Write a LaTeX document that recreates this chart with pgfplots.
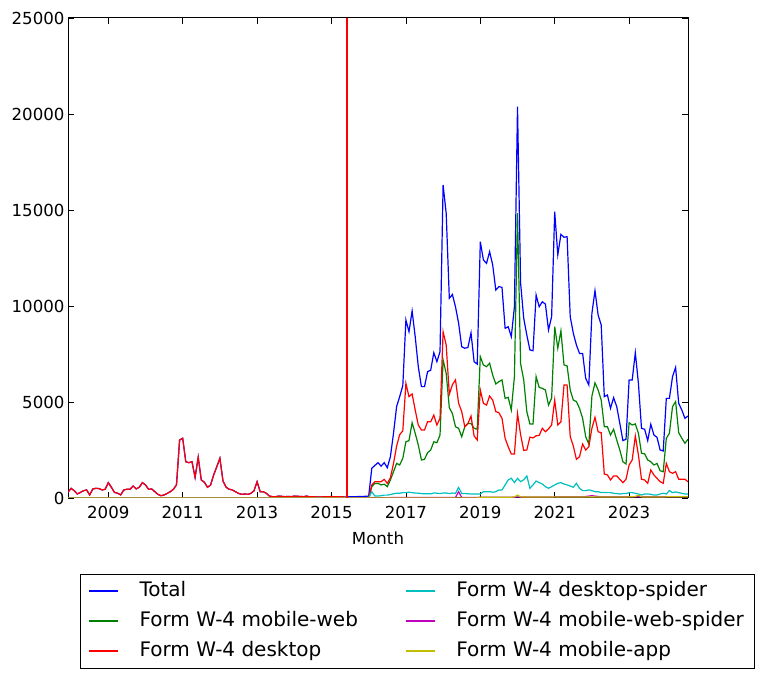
\documentclass[border=0pt]{standalone}
\usepackage{fontspec}
\setmainfont{DejaVu Sans}
\usepackage{pgfplots}
\usepackage{pgfplotstable}
\pgfplotsset{compat=1.18}
\definecolor{mb}{rgb}{0,0,1}
\definecolor{mg}{rgb}{0,0.5,0}
\definecolor{mr}{rgb}{1,0,0}
\definecolor{mc}{rgb}{0,0.75,0.75}
\definecolor{mm}{rgb}{0.75,0,0.75}
\definecolor{my}{rgb}{0.75,0.75,0}
\pgfplotstableread{
x T MW D DS MWS MA
2007.917 300 0 300 0 0 0
2008.000 505 0 505 0 0 0
2008.083 380 0 380 0 0 0
2008.167 210 0 210 0 0 0
2008.250 290 0 290 0 0 0
2008.333 380 0 380 0 0 0
2008.417 420 0 420 0 0 0
2008.500 160 0 160 0 0 0
2008.583 470 0 470 0 0 0
2008.667 505 0 505 0 0 0
2008.750 490 0 490 0 0 0
2008.833 420 0 420 0 0 0
2008.917 455 0 455 0 0 0
2009.000 800 0 800 0 0 0
2009.083 560 0 560 0 0 0
2009.167 290 0 290 0 0 0
2009.250 250 0 250 0 0 0
2009.333 160 0 160 0 0 0
2009.417 420 0 420 0 0 0
2009.500 455 0 455 0 0 0
2009.583 455 0 455 0 0 0
2009.667 625 0 625 0 0 0
2009.750 470 0 470 0 0 0
2009.833 560 0 560 0 0 0
2009.917 800 0 800 0 0 0
2010.000 680 0 680 0 0 0
2010.083 455 0 455 0 0 0
2010.167 470 0 470 0 0 0
2010.250 330 0 330 0 0 0
2010.333 190 0 190 0 0 0
2010.417 120 0 120 0 0 0
2010.500 160 0 160 0 0 0
2010.583 240 0 240 0 0 0
2010.667 330 0 330 0 0 0
2010.750 455 0 455 0 0 0
2010.833 680 0 680 0 0 0
2010.917 3020 0 3020 0 0 0
2011.000 3110 0 3110 0 0 0
2011.083 1890 0 1890 0 0 0
2011.167 1840 0 1840 0 0 0
2011.250 1890 0 1890 0 0 0
2011.333 1075 0 1075 0 0 0
2011.417 2120 0 2120 0 0 0
2011.500 940 0 940 0 0 0
2011.583 820 0 820 0 0 0
2011.667 560 0 560 0 0 0
2011.750 680 0 680 0 0 0
2011.833 1200 0 1200 0 0 0
2011.917 1630 0 1630 0 0 0
2012.000 2070 0 2070 0 0 0
2012.083 890 0 890 0 0 0
2012.167 560 0 560 0 0 0
2012.250 455 0 455 0 0 0
2012.333 420 0 420 0 0 0
2012.417 330 0 330 0 0 0
2012.500 240 0 240 0 0 0
2012.583 190 0 190 0 0 0
2012.667 210 0 210 0 0 0
2012.750 190 0 190 0 0 0
2012.833 240 0 240 0 0 0
2012.917 380 0 380 0 0 0
2013.000 850 0 850 0 0 0
2013.083 330 0 330 0 0 0
2013.167 330 0 330 0 0 0
2013.250 240 0 240 0 0 0
2013.333 100 0 100 0 0 0
2013.417 70 0 70 0 0 0
2013.500 70 0 70 0 0 0
2013.583 100 0 100 0 0 0
2013.667 85 0 85 0 0 0
2013.750 70 0 70 0 0 0
2013.833 80 0 80 0 0 0
2013.917 70 0 70 0 0 0
2014.000 100 0 100 0 0 0
2014.083 90 0 90 0 0 0
2014.167 80 0 80 0 0 0
2014.250 70 0 70 0 0 0
2014.333 100 0 100 0 0 0
2014.417 60 0 60 0 0 0
2014.500 70 0 70 0 0 0
2014.583 60 0 60 0 0 0
2014.667 50 0 50 0 0 0
2014.750 60 0 60 0 0 0
2014.833 70 0 70 0 0 0
2014.917 60 0 60 0 0 0
2015.000 80 0 80 0 0 0
2015.083 60 0 60 0 0 0
2015.167 60 0 60 0 0 0
2015.250 70 0 70 0 0 0
2015.333 50 0 50 0 0 0
2015.417 60 0 30 0 0 0
2015.500 60 0 0 0 0 0
2015.583 70 0 0 0 0 0
2015.667 70 0 0 0 0 0
2015.750 80 0 0 0 0 0
2015.833 80 0 0 0 0 0
2015.917 90 0 0 0 0 0
2016.000 100 0 0 0 0 0
2016.083 1547 590 680 330 0 0
2016.167 1700 760 850 100 0 0
2016.250 1840 760 850 100 20 0
2016.333 1660 680 850 120 0 0
2016.417 1840 720 970 150 0 0
2016.500 1580 590 760 150 20 0
2016.583 2150 940 1050 180 20 0
2016.667 3370 1370 1800 220 30 0
2016.750 4760 1800 2700 250 30 0
2016.833 5280 1720 3300 250 30 0
2016.917 5850 2070 3500 280 30 0
2017.000 9270 2930 5970 280 30 0
2017.083 8660 2990 5280 300 30 0
2017.167 9740 3920 5420 280 30 0
2017.250 8400 3370 4580 260 30 0
2017.333 6840 2760 3800 250 30 0
2017.417 5800 1980 3540 230 30 0
2017.500 5800 2015 3540 220 30 0
2017.583 6580 2360 3970 220 30 0
2017.667 6660 2500 3970 220 30 0
2017.750 7570 2930 4320 260 30 0
2017.833 7100 2880 3800 250 30 0
2017.917 7620 3280 4150 230 30 0
2018.000 16300 7190 8660 260 30 0
2018.083 14830 6490 7970 260 30 0
2018.167 10400 4700 5400 230 30 0
2018.250 10600 4400 5900 260 30 0
2018.333 9960 3710 6150 240 30 0
2018.417 9100 3630 4930 555 330 0
2018.500 7880 3190 4500 230 30 0
2018.583 7800 3710 3710 230 30 0
2018.667 7840 3880 3880 220 30 0
2018.750 8600 3880 4270 210 30 0
2018.833 7100 3630 3230 210 30 0
2018.917 6975 3580 3020 210 30 0
2019.000 13350 7360 5625 210 40 40
2019.083 12400 6930 4930 330 40 40
2019.167 12220 6840 4840 330 40 40
2019.250 12830 7020 5310 330 40 40
2019.333 12140 6400 5100 300 40 40
2019.417 10830 5940 4500 330 40 40
2019.500 11010 6060 4440 420 40 40
2019.583 10970 6150 4150 420 40 40
2019.667 8840 5190 3110 680 40 40
2019.750 8920 5240 2670 940 40 40
2019.833 8400 4580 2290 1030 40 40
2019.917 9960 6320 2290 800 40 60
2020.000 20380 14830 4400 1025 60 150
2020.083 11200 7000 3300 850 50 60
2020.167 9360 6150 2480 950 50 50
2020.250 8490 4500 2500 1150 50 50
2020.333 7710 3850 3170 505 50 50
2020.417 7670 3850 3130 680 50 50
2020.500 10570 6320 3240 885 50 50
2020.583 9960 5760 3260 800 50 50
2020.667 10220 5710 3630 730 50 50
2020.750 10100 5625 3450 590 50 50
2020.833 8750 4840 3600 505 50 50
2020.917 9440 5200 3800 590 50 50
2021.000 14910 8920 5100 680 60 60
2021.083 12660 7800 3800 765 60 50
2021.167 13730 8710 3970 800 60 50
2021.250 13580 6930 5885 730 60 50
2021.333 13610 6880 5885 680 60 50
2021.417 9440 5625 3190 625 60 50
2021.500 8580 5100 2710 560 60 50
2021.583 7970 5020 2015 765 60 50
2021.667 7530 4670 2150 505 60 50
2021.750 7530 4150 2810 385 60 50
2021.833 6230 3190 2500 385 80 50
2021.917 5885 2810 2670 420 100 50
2022.000 9620 5310 3630 385 120 50
2022.083 10800 6000 4200 330 100 50
2022.167 9530 5625 3450 330 80 50
2022.250 9010 5100 3400 280 60 50
2022.333 5280 3710 1250 290 60 50
2022.417 5365 3710 1200 280 60 50
2022.500 4670 3280 940 280 60 50
2022.583 5225 3580 1150 245 60 50
2022.667 4760 3020 1150 230 60 50
2022.750 3890 2500 975 210 60 50
2022.833 2990 1890 800 230 60 50
2022.917 3060 1770 975 230 60 50
2023.000 6150 3920 1720 280 60 60
2023.083 6150 3800 1980 280 60 60
2023.167 7570 3860 3230 245 60 80
2023.250 5970 3370 2240 210 60 150
2023.333 3630 2330 975 155 60 60
2023.417 3580 2300 940 210 60 50
2023.500 2990 1980 765 210 60 50
2023.583 3840 1890 1460 190 60 50
2023.667 3280 1720 1200 155 60 50
2023.750 3160 1800 1025 155 60 50
2023.833 2500 1420 850 210 60 50
2023.917 2450 1370 765 245 60 50
2024.000 5190 3110 1800 210 60 60
2024.083 5190 3370 1370 385 60 60
2024.167 6320 4760 1285 280 60 60
2024.250 6800 5020 1370 315 60 60
2024.333 4930 3400 975 280 60 60
2024.417 4580 3110 975 245 60 60
2024.500 4150 2850 975 210 60 60
2024.583 4270 3060 850 210 60 60
}\data
\begin{document}
\begin{tikzpicture}[font=\fontsize{16.6bp}{20bp}\selectfont]
\path[use as bounding box] (0,0) rectangle (767bp,679bp);
\begin{axis}[
  at={(68bp,181bp)}, anchor=south west,
  scale only axis, width=620bp, height=480bp,
  xmin=2007.917, xmax=2024.583, ymin=0, ymax=25000,
  xtick={2009,2011,2013,2015,2017,2019,2021,2023},
  ytick={0,5000,10000,15000,20000,25000},
  scaled y ticks=false,
  /pgf/number format/assume math mode=true,
  /pgf/number format/1000 sep={},
  tick align=inside, tick pos=both,
  major tick length=5.6bp,
  tick style={black, line width=0.8bp},
  axis line style={black, line width=1bp},
  xticklabel style={yshift=-5bp},
  xlabel={Month},
  xlabel style={yshift=-6bp},
  legend columns=3, transpose legend,
  legend cell align=left,
  legend image code/.code={\draw[#1, line width=1.5bp] (11bp,0.5bp) -- (40bp,0.5bp); \path (58bp,0bp);},
  legend style={at={(0.5637,-0.158)}, anchor=north, draw=black, line width=1.2bp,
    inner xsep=8bp, inner ysep=2bp,
    font=\fontsize{20bp}{24bp}\selectfont,
    nodes={inner ysep=5.5bp, inner xsep=3bp, text height=14.5bp, text depth=4.5bp},
    /tikz/every even column/.append style={column sep=44bp}},
  every axis plot/.append style={line width=1.2bp},
]
\addplot[mb] table[x=x,y=T]{\data};
\addlegendentry{Total}
\addplot[mg] table[x=x,y=MW]{\data};
\addlegendentry{Form W-4 mobile-web}
\addplot[mr] table[x=x,y=D]{\data};
\addlegendentry{Form W-4 desktop}
\addplot[mc] table[x=x,y=DS]{\data};
\addlegendentry{Form W-4 desktop-spider}
\addplot[mm] table[x=x,y=MWS]{\data};
\addlegendentry{Form W-4 mobile-web-spider}
\addplot[my] table[x=x,y=MA]{\data};
\addlegendentry{Form W-4 mobile-app}
\addplot[mr, line width=2.6bp, forget plot] coordinates {(2015.417,0) (2015.417,25000)};
\end{axis}
\end{tikzpicture}
\end{document}
